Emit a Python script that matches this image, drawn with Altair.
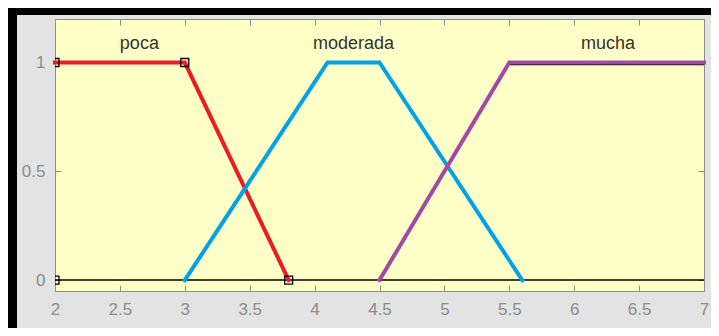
import altair as alt
import pandas as pd

# ---- data ----
mf_names = ["poca", "moderada", "mucha"]
mf_colors = ["#ED1C24", "#00A2E8", "#A349A4"]
poca_x = [2, 3, 3.8]
poca_y = [1, 1, 0]
moderada_x = [3, 4.1, 4.5, 5.6]
moderada_y = [0, 1, 1, 0]
mucha_x = [4.5, 5.5, 7]
mucha_y = [0, 1, 1]

marker_x = [2, 3, 3.8, 2]
marker_y = [1, 1, 0, 0]

label_text = ["poca", "moderada", "mucha"]
label_x = [2.65, 4.30, 6.26]
label_y = [1.06, 1.06, 1.06]

x_ticks = [2, 2.5, 3, 3.5, 4, 4.5, 5, 5.5, 6, 6.5, 7]
y_ticks = [0, 0.5, 1]
x_domain = [2, 7]
y_domain = [-0.05, 1.2]

# ---- tables ----
rows = []
for name, xs_, ys_ in [("poca", poca_x, poca_y), ("moderada", moderada_x, moderada_y), ("mucha", mucha_x, mucha_y)]:
    for i, (a, b) in enumerate(zip(xs_, ys_)):
        rows.append({"mf": name, "x": a, "y": b, "i": i})
lines_df = pd.DataFrame(rows)

base_df = pd.DataFrame({"x": [2, 7], "y": [0, 0], "i": [0, 1]})
top_df = pd.DataFrame({"x": [5.5, 7], "y": [1, 1], "i": [0, 1]})
markers_df = pd.DataFrame({"x": marker_x, "y": marker_y})
labels_df = pd.DataFrame({"label": label_text, "x": label_x, "y": label_y})
dummy = pd.DataFrame({"a": [0]})

W, H = 649, 272
PAD = {"left": 47, "top": 11, "right": 7, "bottom": 37}
AX = "#8C8C8C"
FONT = "Liberation Sans"

xs = alt.Scale(domain=x_domain, nice=False, zero=False)
ys = alt.Scale(domain=y_domain, nice=False, zero=False)

ax_x_labels = alt.Axis(orient="bottom", values=x_ticks, labelExpr="'' + datum.value",
                       ticks=False, tickSize=0, domain=False, grid=False, labelPadding=10,
                       labelFontSize=17, labelColor=AX, labelFont=FONT, title=None,
                       labelFlush=False, labelOverlap=False)
ax_x_bottom_ticks = alt.Axis(orient="top", offset=-H, values=x_ticks, labels=False, domain=False,
                             ticks=True, tickSize=6, tickColor=AX, tickWidth=1, grid=False, title=None)
ax_x_top_ticks = alt.Axis(orient="bottom", offset=-H, values=x_ticks, labels=False, domain=False,
                          ticks=True, tickSize=6, tickColor=AX, tickWidth=1, grid=False, title=None)
ax_y_labels = alt.Axis(orient="left", values=y_ticks, labelExpr="'' + datum.value",
                       ticks=False, tickSize=0, domain=False, grid=False, labelPadding=10,
                       labelFontSize=17, labelColor=AX, labelFont=FONT, title=None)
ax_y_left_ticks = alt.Axis(orient="right", offset=-W, values=y_ticks, labels=False, domain=False,
                           ticks=True, tickSize=6, tickColor=AX, tickWidth=1, grid=False, title=None)
ax_y_right_ticks = alt.Axis(orient="left", offset=-W, values=y_ticks, labels=False, domain=False,
                            ticks=True, tickSize=6, tickColor=AX, tickWidth=1, grid=False, title=None)

band_left = alt.Chart(dummy).mark_rect(color="black").encode(
    x=alt.value(-47), x2=alt.value(-38), y=alt.value(-11), y2=alt.value(H + 37))
band_top = alt.Chart(dummy).mark_rect(color="black").encode(
    x=alt.value(-47), x2=alt.value(W + 7), y=alt.value(-11), y2=alt.value(-4))

baseline = alt.Chart(base_df).mark_line(color="black", strokeWidth=1.5).encode(
    x=alt.X("x:Q", scale=xs, axis=ax_x_labels),
    y=alt.Y("y:Q", scale=ys, axis=ax_y_labels),
    order="i:Q")

top_black = alt.Chart(top_df).mark_line(color="black", strokeWidth=1.5, yOffset=2).encode(
    x=alt.X("x:Q", scale=xs, axis=None),
    y=alt.Y("y:Q", scale=ys, axis=None),
    order="i:Q")

mf_lines = alt.Chart(lines_df).mark_line(strokeWidth=4, strokeCap="square", strokeJoin="miter").encode(
    x=alt.X("x:Q", scale=xs, axis=ax_x_bottom_ticks),
    y=alt.Y("y:Q", scale=ys, axis=ax_y_left_ticks),
    color=alt.Color("mf:N", scale=alt.Scale(domain=mf_names, range=mf_colors), legend=None),
    order="i:Q")

markers = alt.Chart(markers_df).mark_point(shape="square", filled=False, size=64, strokeWidth=1.3,
                                           color="black", opacity=1, clip=True).encode(
    x=alt.X("x:Q", scale=xs, axis=ax_x_top_ticks),
    y=alt.Y("y:Q", scale=ys, axis=ax_y_right_ticks))

labels = alt.Chart(labels_df).mark_text(fontSize=18, font=FONT, color="#333333",
                                        baseline="alphabetic", align="center").encode(
    x=alt.X("x:Q", scale=xs, axis=None),
    y=alt.Y("y:Q", scale=ys, axis=None),
    text="label:N")

chart = alt.layer(band_left, band_top, baseline, top_black, mf_lines, markers, labels).resolve_axis(
    x="independent", y="independent"
).properties(
    width=W, height=H,
    autosize=alt.AutoSizeParams(type="none"),
    padding=PAD,
    background="#E3E3E3",
).configure_view(
    fill="#FFFFC8", stroke=AX, strokeWidth=1
)

chart.save("out.html", embed_options={"renderer": "svg", "actions": False})
